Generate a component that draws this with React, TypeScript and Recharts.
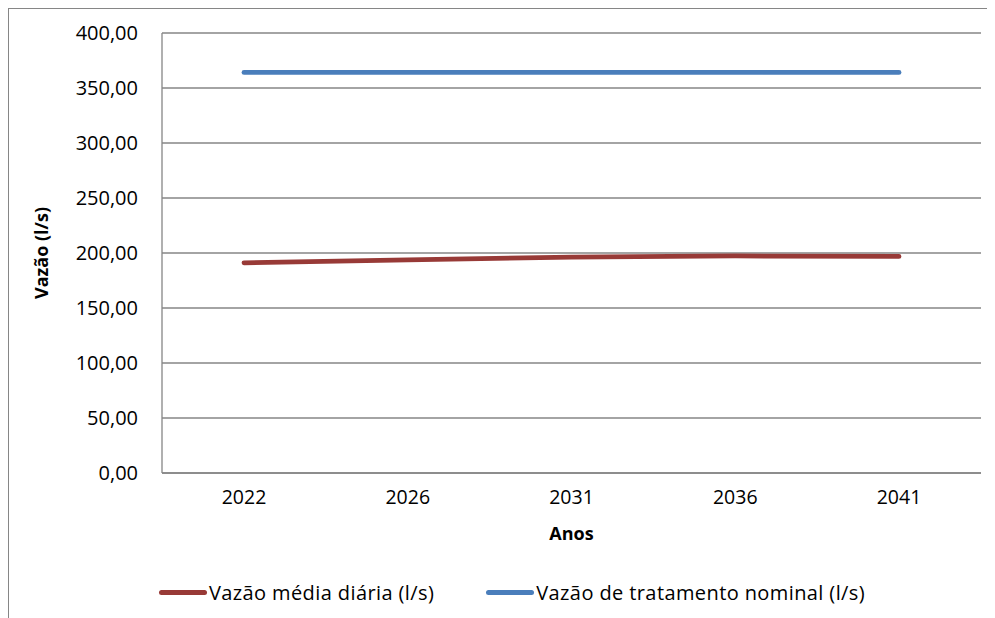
import { CartesianGrid, Legend, Line, LineChart, XAxis, YAxis } from "recharts";

const YEARS = ["2022", "2026", "2031", "2036", "2041"];
const VAZAO_MEDIA = [191.1, 193.8, 196.2, 197.3, 196.9];
const VAZAO_NOMINAL = [364.2, 364.2, 364.2, 364.2, 364.2];
const Y_TICKS = [0, 50, 100, 150, 200, 250, 300, 350, 400];

const SERIES = [
  { key: "media", name: "Vazão média diária (l/s)", color: "#983a37" },
  { key: "nominal", name: "Vazão de tratamento nominal (l/s)", color: "#4a7ebb" },
];

const FONT = "'Open Sans', sans-serif";
const GRID = "#868686";

const data = YEARS.map((year, i) => ({
  year,
  media: VAZAO_MEDIA[i],
  nominal: VAZAO_NOMINAL[i],
}));

const fmt = (v: number) => v.toFixed(2).replace(".", ",");

function LegendContent() {
  return (
    <div
      style={{
        display: "flex",
        justifyContent: "center",
        gap: 52,
        paddingLeft: 34,
        fontFamily: FONT,
        fontSize: 20,
        letterSpacing: 0.4,
        color: "#000",
      }}
    >
      {SERIES.map((s) => (
        <span key={s.key} style={{ display: "flex", alignItems: "center" }}>
          <span
            style={{
              display: "inline-block",
              width: 48,
              height: 5,
              borderRadius: 3,
              background: s.color,
              marginRight: 2,
            }}
          />
          {s.name}
        </span>
      ))}
    </div>
  );
}

export default function App() {
  return (
    <div style={{ width: 1020, height: 640, border: `1px solid ${GRID}`, background: "#fff" }}>
      <LineChart
        width={1000}
        height={620}
        data={data}
        margin={{ top: 24, right: 28, bottom: 20, left: 0 }}
      >
        <CartesianGrid vertical={false} stroke={GRID} strokeWidth={1.3} />
        <XAxis
          dataKey="year"
          height={106}
          padding={{ left: 82, right: 82 }}
          axisLine={{ stroke: GRID, strokeWidth: 1.3 }}
          tickLine={false}
          tickSize={0}
          tickMargin={17}
          tick={{ fill: "#000", fontFamily: FONT, fontSize: 19.5 }}
          label={{
            value: "Anos",
            position: "insideTop",
            offset: 54,
            fill: "#000",
            fontFamily: FONT,
            fontSize: 18,
            fontWeight: 700,
          }}
        />
        <YAxis
          width={153}
          domain={[0, 400]}
          ticks={Y_TICKS}
          tickFormatter={fmt}
          axisLine={{ stroke: GRID, strokeWidth: 1.3 }}
          tickLine={false}
          tickSize={0}
          tickMargin={24}
          tick={{ fill: "#000", fontFamily: FONT, fontSize: 20 }}
          label={{
            value: "Vazão (l/s)",
            angle: -90,
            position: "insideLeft",
            offset: 33,
            fill: "#000",
            fontFamily: FONT,
            fontSize: 18,
            fontWeight: 700,
            style: { textAnchor: "middle" },
          }}
        />
        <Legend verticalAlign="bottom" height={30} content={<LegendContent />} />
        {SERIES.map((s) => (
          <Line
            key={s.key}
            dataKey={s.key}
            name={s.name}
            stroke={s.color}
            strokeWidth={4.8}
            strokeLinecap="round"
            dot={false}
            isAnimationActive={false}
          />
        ))}
      </LineChart>
    </div>
  );
}
